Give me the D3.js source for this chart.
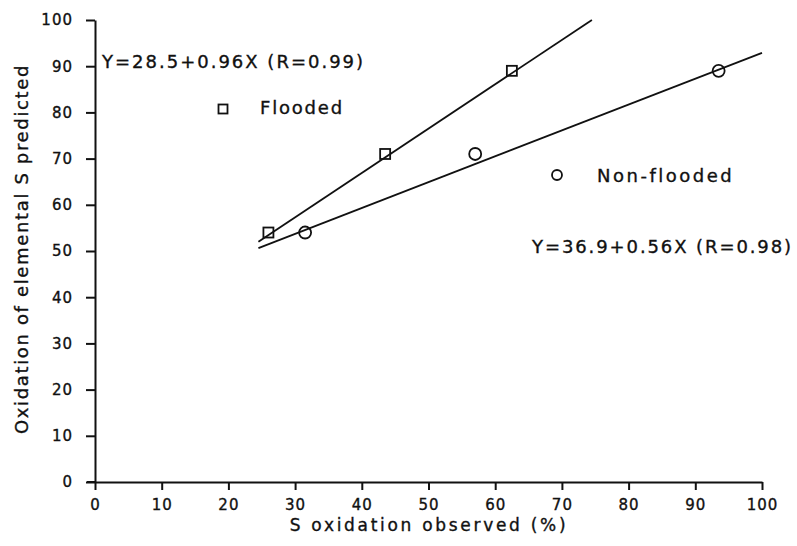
<!DOCTYPE html>
<html>
<head>
<meta charset="utf-8">
<script src="https://cdn.jsdelivr.net/npm/d3@7/dist/d3.min.js"></script>
<style>
  html, body { margin: 0; padding: 0; background: #fff; }
  svg text { font-family: "DejaVu Sans", sans-serif; fill: #111; stroke: #111; stroke-width: 0.35px; }
</style>
</head>
<body>
<svg id="chart" width="797" height="546"></svg>
<script>
// Observed vs predicted S oxidation (%)
const floodedObserved = [26, 43.5, 62.5];
const floodedPredicted = [54, 71, 89];
const nonFloodedObserved = [31.5, 57, 93.5];
const nonFloodedPredicted = [54, 71, 89];

// Regression fits: Y = a + bX over the drawn X range
const floodedFit = { a: 28.5, b: 0.96, r: 0.99, x0: 24.5, x1: 74.5 };
const nonFloodedFit = { a: 36.9, b: 0.56, r: 0.98, x0: 24.5, x1: 100 };

const xTicks = [0, 10, 20, 30, 40, 50, 60, 70, 80, 90, 100];
const yTicks = [0, 10, 20, 30, 40, 50, 60, 70, 80, 90, 100];

const svg = d3.select("#chart");
const x = d3.scaleLinear().domain([0, 100]).range([95, 762]);
const y = d3.scaleLinear().domain([0, 100]).range([482, 20]);

const ink = "#111";

// Y axis
const yAxis = svg.append("g")
  .attr("transform", `translate(${x(0)},0)`)
  .call(d3.axisLeft(y).tickValues(yTicks).tickSize(9).tickSizeOuter(0).tickPadding(13));
yAxis.select(".domain").attr("stroke", ink).attr("stroke-width", 2);
yAxis.selectAll(".tick line").attr("stroke", ink).attr("stroke-width", 2);
yAxis.selectAll(".tick text")
  .style("font-size", "15px").style("letter-spacing", "1px").attr("fill", ink);

// X axis
const xAxis = svg.append("g")
  .attr("transform", `translate(0,${y(0)})`)
  .call(d3.axisBottom(x).tickValues(xTicks).tickSize(8).tickSizeOuter(0).tickPadding(9.5));
xAxis.select(".domain").attr("stroke", ink).attr("stroke-width", 2);
xAxis.selectAll(".tick line").attr("stroke", ink).attr("stroke-width", 2);
xAxis.selectAll(".tick text")
  .style("font-size", "15px").style("letter-spacing", "1px").attr("fill", ink);

// short stub left of the origin
svg.append("line")
  .attr("x1", x(0) - 8).attr("x2", x(0))
  .attr("y1", y(0)).attr("y2", y(0))
  .attr("stroke", ink).attr("stroke-width", 2);

// Axis titles
svg.append("text")
  .attr("x", 429).attr("y", 531)
  .attr("text-anchor", "middle")
  .style("font-size", "17px").style("letter-spacing", "2.7px")
  .text("S oxidation observed (%)");

svg.append("text")
  .attr("transform", "translate(28,249) rotate(-90)")
  .attr("text-anchor", "middle")
  .style("font-size", "18px").style("letter-spacing", "1.65px")
  .text("Oxidation of elemental S predicted");

// Fit lines
const line = d3.line().x(d => x(d[0])).y(d => y(d[1]));
[floodedFit, nonFloodedFit].forEach(f => {
  svg.append("path")
    .attr("d", line([[f.x0, f.a + f.b * f.x0], [f.x1, f.a + f.b * f.x1]]))
    .attr("fill", "none").attr("stroke", ink).attr("stroke-width", 1.8);
});

// Flooded points (squares)
svg.append("g").selectAll("rect")
  .data(floodedObserved.map((v, i) => [v, floodedPredicted[i]]))
  .join("rect")
  .attr("x", d => x(d[0]) - 5).attr("y", d => y(d[1]) - 5)
  .attr("width", 10).attr("height", 10)
  .attr("fill", "none").attr("stroke", ink).attr("stroke-width", 1.8);

// Non-flooded points (circles)
svg.append("g").selectAll("circle")
  .data(nonFloodedObserved.map((v, i) => [v, nonFloodedPredicted[i]]))
  .join("circle")
  .attr("cx", d => x(d[0])).attr("cy", d => y(d[1]))
  .attr("r", 6)
  .attr("fill", "none").attr("stroke", ink).attr("stroke-width", 1.8);

// Equation labels
const fmtEq = f => `Y=${f.a.toFixed(1)}+${f.b.toFixed(2)}X (R=${f.r.toFixed(2)})`;
svg.append("text")
  .attr("x", 102).attr("y", 68)
  .style("font-size", "18px").style("letter-spacing", "2px")
  .text(fmtEq(floodedFit));
svg.append("text")
  .attr("x", 532).attr("y", 253)
  .style("font-size", "18px").style("letter-spacing", "1.9px")
  .text(fmtEq(nonFloodedFit));

// Legend entries
svg.append("rect")
  .attr("x", 218.5).attr("y", 104.5).attr("width", 9).attr("height", 9)
  .attr("fill", "none").attr("stroke", ink).attr("stroke-width", 1.8);
svg.append("text")
  .attr("x", 260).attr("y", 114)
  .style("font-size", "18px").style("letter-spacing", "1.8px")
  .text("Flooded");

svg.append("circle")
  .attr("cx", 557).attr("cy", 175).attr("r", 5)
  .attr("fill", "none").attr("stroke", ink).attr("stroke-width", 1.8);
svg.append("text")
  .attr("x", 597).attr("y", 182)
  .style("font-size", "18px").style("letter-spacing", "2.5px")
  .text("Non-flooded");
</script>
</body>
</html>
